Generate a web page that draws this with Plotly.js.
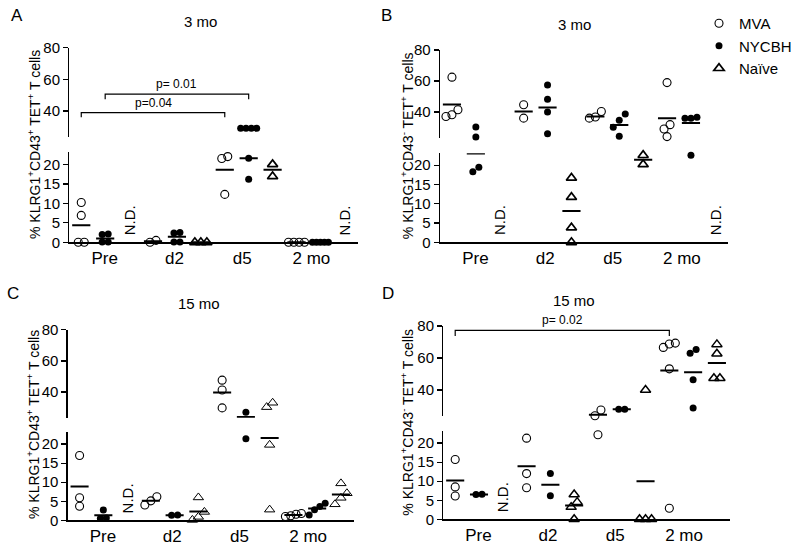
<!DOCTYPE html>
<html><head><meta charset="utf-8">
<script src="https://cdn.plot.ly/plotly-3.0.1.min.js"></script>
<style>html,body{margin:0;padding:0;background:#fff}#chart{width:800px;height:545px}</style>
</head><body><div id="chart"></div>
<script>
// ---------------- DATA ----------------
const timepoints = ['Pre', 'd2', 'd5', '2 mo'];
const groups = ['MVA', 'NYCBH', 'Naïve'];
// null = N.D.
// Panel A (3 mo, KLRG1+CD43+)
const A_MVA = [[10.2, 6.9, 0, 0], [0.5, 0], [22.0, 21.5, 12.3], [0, 0, 0, 0]];
const A_NYCBH = [[2.1, 2.0, 0.1, 0.1], [2.5, 2.4, 0.1, 0.1], [29, 29, 29, 29, 21.6, 16.2], [0, 0, 0, 0, 0]];
const A_Naive = [null, [0, 0, 0], [20.0, 16.9], null];
const A_MVA_mean = [4.36, 0.3, 18.6, 0];
const A_NYCBH_mean = [1.0, 1.4, 21.6, 0];
const A_Naive_mean = [null, 0, 18.6, null];
// Panel B (3 mo, KLRG1+CD43-)
const B_MVA = [[62.5, 41.5, 37.2, 38.3], [44.7, 36.1], [40.4, 36.1, 36.8], [59.0, 31.9, 29.1, 24.2]];
const B_NYCBH = [[30.4, 24.0, 18.3, 19.5], [57.5, 48.3, 40.0, 26.1], [38.7, 34.7, 30.2, 24.4], [36.1, 36.1, 36.6, 22.6]];
const B_Naive = [null, [16.7, 11.7, 3.8, 0], [22.6, 20.2], null];
const B_MVA_mean = [44.9, 40.4, 37.2, 36.1];
const B_NYCBH_mean = [23.05, 43.0, 31.7, 33.0];
const B_Naive_mean = [null, 8.1, 21.4, null];
// Panel C (15 mo, KLRG1+CD43+)
const C_MVA = [[17.0, 5.9, 3.7], [6.2, 4.0, 5.1], [47.6, 41.3, 29.8], [1.8, 1.6, 1.2, 1.0]];
const C_NYCBH = [[2.7, 0.6, 0.5], [1.3, 1.4], [27.0, 21.4], [4.5, 3.6, 2.8, 1.4]];
const C_Naive = [null, [6.0, 2.2, 0.9, 0.1], [33.1, 30.3, 19.8, 2.8], [9.7, 7.1, 5.9, 4.2]];
const C_MVA_mean = [8.9, 5.1, 39.6, 1.4];
const C_NYCBH_mean = [1.3, 1.3, 24.0, 3.1];
const C_Naive_mean = [null, 2.3, 21.6, 6.8];
// Panel D (15 mo, KLRG1+CD43-)
const D_MVA = [[15.7, 8.5, 6.1], [21.3, 12.0, 8.3], [27.4, 23.8, 22.2], [69.3, 68.7, 66.6, 53.2, 2.9]];
const D_NYCBH = [[6.5, 6.6], [12.0, 6.2], [27.9, 27.9], [65.3, 63.0, 46.3, 28.7]];
const D_Naive = [null, [6.5, 4.5, 3.2, 0], [40.0, 0, 0, 0], [68.5, 62.6, 47.3, 47.3]];
const D_MVA_mean = [10.2, 13.9, 24.4, 52.1];
const D_NYCBH_mean = [6.5, 9.1, 27.9, 51.1];
const D_Naive_mean = [null, 3.6, 10.0, 56.8];
// significance brackets (columns are group slots 0..11)
const A_brackets = [{from: 0, to: 6, y: 38.9, drop: 2.9, label: 'p=0.04'}, {from: 1, to: 7, y: 50.6, drop: 3.2, label: 'p= 0.01'}];
const D_brackets = [{from: 0, to: 9, y: 77.3, drop: 3.6, label: 'p= 0.02'}];
const yTitlePlus = '% KLRG1<sup>+</sup>CD43<sup>+</sup> TET<sup>+</sup> T cells';
const yTitleMinus = '% KLRG1<sup>+</sup>CD43<sup>-</sup> TET<sup>+</sup> T cells';

// ---------------- LAYOUT CONFIG ----------------
const W = 800, H = 545;
const FONT = 'Liberation Sans, Arial, Helvetica, sans-serif';
const LO_MAX = 23.1, UP_MIN = 23.5, UP_MAX = 80, SPLIT = 23.3;
const X_RANGE = [-0.5, 11.55];
const TICKVALS = [0.98, 3.9, 6.73, 9.62];
const panels = [
  {letter: 'A', title: '3 mo', ytitle: yTitlePlus, series: [A_MVA, A_NYCBH, A_Naive], means: [A_MVA_mean, A_NYCBH_mean, A_Naive_mean], brackets: A_brackets,
   x: [69.3, 357.5], lo: [152.3, 242.3], up: [47.7, 137], letterPos: [17, 15], titlePos: [200.7, 21.7], ytX: 34, triW: 1.7},
  {letter: 'B', title: '3 mo', ytitle: yTitleMinus, series: [B_MVA, B_NYCBH, B_Naive], means: [B_MVA_mean, B_NYCBH_mean, B_Naive_mean], brackets: [],
   x: [440, 728], lo: [153.3, 242.3], up: [50, 137.7], letterPos: [386, 15], titlePos: [574, 24], ytX: 407, triW: 1.7},
  {letter: 'C', title: '15 mo', ytitle: yTitlePlus, series: [C_MVA, C_NYCBH, C_Naive], means: [C_MVA_mean, C_NYCBH_mean, C_Naive_mean], brackets: [],
   x: [67.7, 354], lo: [432.3, 520.3], up: [329.7, 417.7], letterPos: [12.5, 293], titlePos: [199, 303.7], ytX: 33, triW: 1.0},
  {letter: 'D', title: '15 mo', ytitle: yTitleMinus, series: [D_MVA, D_NYCBH, D_Naive], means: [D_MVA_mean, D_NYCBH_mean, D_Naive_mean], brackets: D_brackets,
   x: [443.3, 730], lo: [431.3, 519.3], up: [326, 416.3], letterPos: [387.5, 293], titlePos: [574, 300.3], ytX: 407, triW: 1.5}
];
const markerStyles = [
  {symbol: 'circle-open', size: 8, color: '#000', line: {width: 1.1, color: '#000'}},
  {symbol: 'circle', size: 7, color: '#000', line: {width: 0}},
  {symbol: 'triangle-up-open', size: 9, color: '#000', line: {width: 1.7, color: '#000'}}
];

function dodge(vals, pxY, pxX) {
  const idx = vals.map((v, i) => i).sort((a, b) => vals[a] - vals[b]);
  const off = new Array(vals.length).fill(0);
  let cl = [];
  const flush = () => {
    const n = cl.length;
    const sp = n > 3 ? Math.min(6, 16 / (n - 1)) : 6;
    cl.forEach((id, k) => { off[id] = (k - (n - 1) / 2) * sp / pxX; });
    cl = [];
  };
  idx.forEach(i => {
    if (cl.length && (vals[i] - vals[cl[cl.length - 1]]) * pxY >= 7) flush();
    cl.push(i);
  });
  if (cl.length) flush();
  return off;
}

const traces = [];
const layout = {
  width: W, height: H, margin: {l: 0, r: 0, t: 0, b: 0},
  paper_bgcolor: '#fff', plot_bgcolor: 'rgba(0,0,0,0)',
  font: {family: FONT, color: '#000', size: 14},
  showlegend: true,
  legend: {x: 699 / W, xanchor: 'left', y: 1 - 7 / H, yanchor: 'top', tracegroupgap: 0,
    font: {size: 15, family: FONT}, bgcolor: 'rgba(0,0,0,0)'},
  annotations: [], shapes: []
};

panels.forEach((p, k) => {
  const xa = k === 0 ? 'x' : 'x' + (k + 1);
  const yl = 'y' + (2 * k + 1 === 1 ? '' : (2 * k + 1));
  const yu = 'y' + (2 * k + 2);
  const axName = a => a.replace('x', 'xaxis').replace('y', 'yaxis');
  const pxX = (p.x[1] - p.x[0]) / (X_RANGE[1] - X_RANGE[0]);
  const pxLo = (p.lo[1] - p.lo[0]) / LO_MAX;
  const pxUp = (p.up[1] - p.up[0]) / (UP_MAX - UP_MIN);
  const common = {showgrid: false, zeroline: false, showline: true, linecolor: '#000', linewidth: 1.3, fixedrange: true};
  layout[axName(xa)] = Object.assign({}, common, {
    domain: [p.x[0] / W, p.x[1] / W], anchor: yl, range: X_RANGE,
    tickmode: 'array', tickvals: TICKVALS, ticktext: timepoints, ticks: '', tickfont: {size: 17, family: FONT}
  });
  layout[axName(yl)] = Object.assign({}, common, {
    domain: [1 - p.lo[1] / H, 1 - p.lo[0] / H], anchor: xa, range: [0, LO_MAX],
    tickmode: 'array', tickvals: [0, 5, 10, 15, 20], ticks: 'outside', ticklen: 5, tickwidth: 1.3, tickcolor: '#000', tickfont: {size: 15, family: FONT}
  });
  layout[axName(yu)] = Object.assign({}, common, {
    domain: [1 - p.up[1] / H, 1 - p.up[0] / H], anchor: xa, range: [UP_MIN, UP_MAX],
    tickmode: 'array', tickvals: [40, 60, 80], ticks: 'outside', ticklen: 5, tickwidth: 1.3, tickcolor: '#000', tickfont: {size: 15, family: FONT}
  });

  p.series.forEach((ser, s) => {
    const lo = {x: [], y: []}, up = {x: [], y: []};
    const mlo = {x: [], y: []}, mup = {x: [], y: []};
    ser.forEach((vals, t) => {
      const col = 3 * t + s;
      if (vals === null) {
        layout.annotations.push({x: col, y: 1.3, xref: xa, yref: yl, text: 'N.D.', textangle: -90, showarrow: false,
          xanchor: 'center', yanchor: 'bottom', font: {size: 15, family: FONT}});
        return;
      }
      const lv = vals.filter(v => v < SPLIT), uv = vals.filter(v => v >= SPLIT);
      const lo_off = dodge(lv, pxLo, pxX), up_off = dodge(uv, pxUp, pxX);
      lv.forEach((v, i) => { lo.x.push(col + lo_off[i]); lo.y.push(v); });
      uv.forEach((v, i) => { up.x.push(col + up_off[i]); up.y.push(v); });
      const m = p.means[s][t];
      if (m !== null && m !== undefined) {
        const tgt = m < SPLIT ? mlo : mup;
        tgt.x.push(col - 0.38, col + 0.38, null); tgt.y.push(m, m, null);
      }
    });
    let mk = markerStyles[s];
    if (s === 2) mk = Object.assign({}, mk, {line: {width: p.triW, color: '#000'}});
    traces.push({type: 'scatter', mode: 'markers', x: lo.x, y: lo.y, xaxis: xa, yaxis: yl, cliponaxis: false,
      marker: mk, name: groups[s], legendgroup: groups[s], showlegend: k === 0, hoverinfo: 'skip'});
    traces.push({type: 'scatter', mode: 'markers', x: up.x, y: up.y, xaxis: xa, yaxis: yu, cliponaxis: false,
      marker: mk, name: groups[s], legendgroup: groups[s], showlegend: false, hoverinfo: 'skip'});
    traces.push({type: 'scatter', mode: 'lines', x: mlo.x, y: mlo.y, xaxis: xa, yaxis: yl, cliponaxis: false,
      line: {color: '#000', width: 2}, showlegend: false, hoverinfo: 'skip'});
    traces.push({type: 'scatter', mode: 'lines', x: mup.x, y: mup.y, xaxis: xa, yaxis: yu, cliponaxis: false,
      line: {color: '#000', width: 2}, showlegend: false, hoverinfo: 'skip'});
  });

  p.brackets.forEach(b => {
    layout.shapes.push({type: 'path', xref: xa, yref: yu,
      path: `M ${b.from},${b.y - b.drop} L ${b.from},${b.y} L ${b.to},${b.y} L ${b.to},${b.y - b.drop}`,
      line: {color: '#000', width: 1.2}});
    layout.annotations.push({x: (b.from + b.to) / 2, y: b.y, xref: xa, yref: yu, text: b.label, showarrow: false,
      xanchor: 'center', yanchor: 'bottom', yshift: 1, font: {size: 12, family: FONT}});
  });

  layout.annotations.push({x: p.letterPos[0] / W, y: 1 - p.letterPos[1] / H, xref: 'paper', yref: 'paper', text: p.letter,
    showarrow: false, xanchor: 'center', yanchor: 'middle', font: {size: 17, family: FONT}});
  layout.annotations.push({x: p.titlePos[0] / W, y: 1 - p.titlePos[1] / H, xref: 'paper', yref: 'paper', text: p.title,
    showarrow: false, xanchor: 'center', yanchor: 'middle', font: {size: 15, family: FONT}});
  layout.annotations.push({x: p.ytX / W, y: 1 - ((p.up[0] + p.lo[1]) / 2) / H, xref: 'paper', yref: 'paper', text: p.ytitle,
    textangle: -90, showarrow: false, xanchor: 'center', yanchor: 'middle', font: {size: 14, family: FONT}});
});

Plotly.newPlot('chart', traces, layout, {staticPlot: true, displayModeBar: false});
</script></body></html>
